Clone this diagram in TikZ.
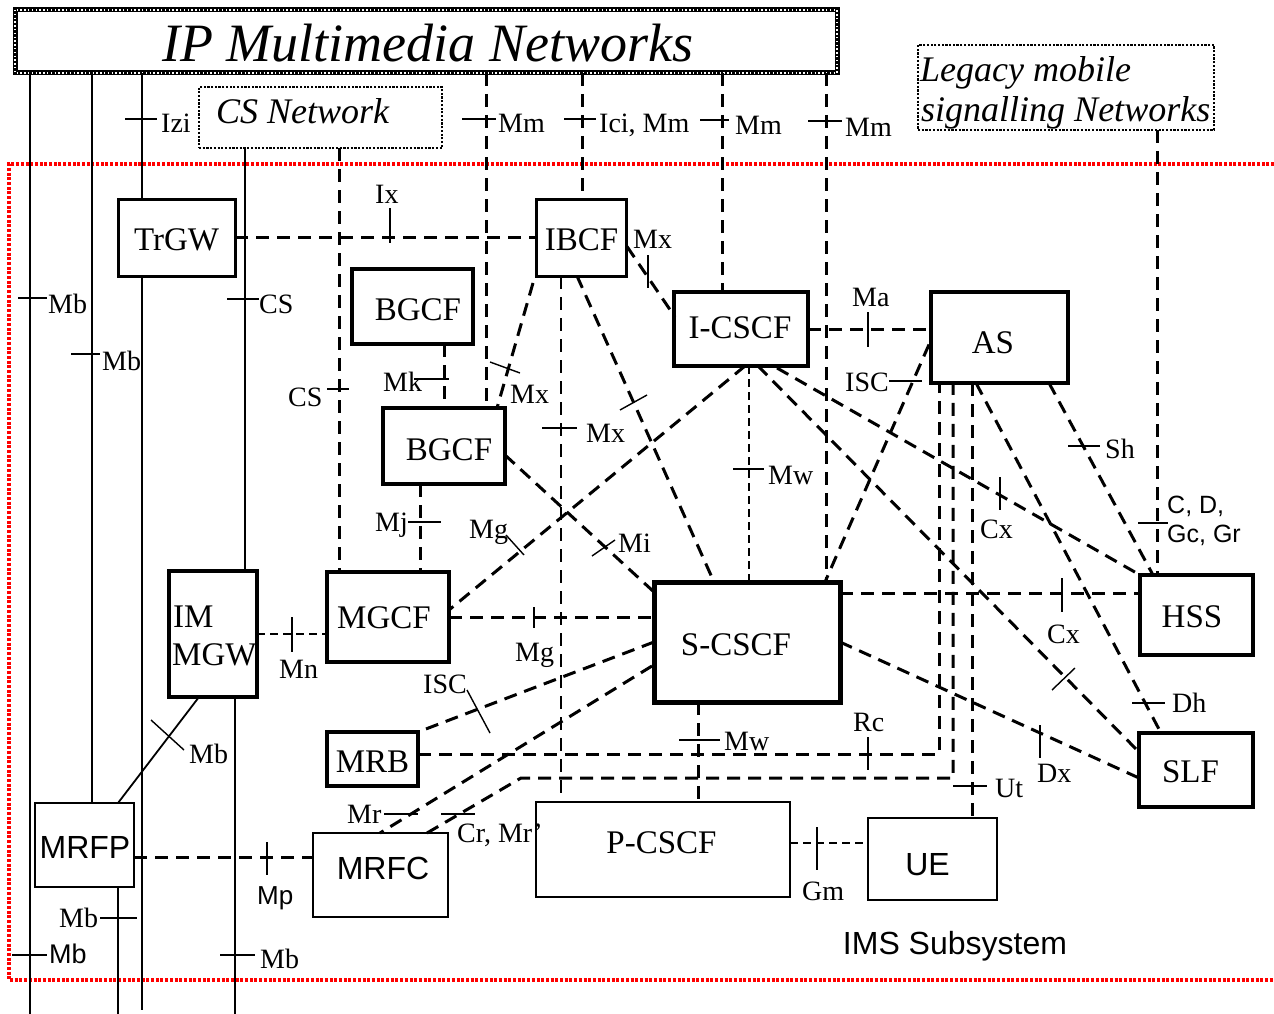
\documentclass[tikz,border=0pt]{standalone}
\usepackage{fontspec}
\setmainfont{Liberation Serif}
\newfontfamily\arialf{Liberation Sans}
\usetikzlibrary{calc}
\tikzset{
 nbox/.style={draw, rectangle, inner sep=0pt, outer sep=0pt},
 btxt/.style={font=\fontsize{33}{36}\selectfont, anchor=base, inner sep=0pt},
 stxt/.style={font=\arialf\fontsize{32}{35}\selectfont, anchor=base, inner sep=0pt},
 lab/.style={font=\fontsize{28}{30}\selectfont, anchor=base west, inner sep=0pt},
 slab/.style={font=\arialf\fontsize{26}{28}\selectfont, anchor=base west, inner sep=0pt},
 dl/.style={line width=3pt, dash pattern=on 13pt off 8pt},
 dls/.style={line width=2.6pt, dash pattern=on 8pt off 5pt},
 sl/.style={line width=1.8pt},
 tk/.style={line width=1.4pt},
 dotbox/.style={draw, rectangle, inner sep=0pt, outer sep=0pt, line width=2.4pt, dash pattern=on 2.2pt off 1.5pt},
}
\begin{document}
\begin{tikzpicture}[x=1pt,y=-1pt]
\useasboundingbox (0,0) rectangle (1274,1014);
\fill[white] (0,0) rectangle (1274,1014);

% red IMS region
\draw[red, line width=3.2pt, dash pattern=on 3pt off 1.7pt] (1274,164) -- (9,164) -- (9,980) -- (1274,980);

% outer networks
\node[nbox, line width=5pt, minimum width=822pt, minimum height=63pt] (ip) at (426,41.5) {};
\draw[white, line width=1.4pt, dash pattern=on 1.4pt off 2.4pt] (ip.north west) rectangle (ip.south east);
\node[font=\itshape\fontsize{54}{58}\selectfont, anchor=base, inner sep=0pt] (ip-t) at (427.5,62) {IP Multimedia Networks};
\node[dotbox, minimum width=243pt, minimum height=61pt] (csnet) at (320.5,117.5) {};
\node[font=\itshape\fontsize{36}{40}\selectfont, anchor=base west, inner sep=0pt] (csnet-t) at (216,124) {CS Network};
\node[dotbox, minimum width=296pt, minimum height=85pt] (legacy) at (1066,87.5) {};
\node[font=\itshape\fontsize{36}{40}\selectfont, anchor=base west, inner sep=0pt] (legacy-t1) at (920,82) {Legacy mobile};
\node[font=\itshape\fontsize{36}{40}\selectfont, anchor=base west, inner sep=0pt] (legacy-t2) at (921,122) {signalling Networks};

% boxes
\node[nbox, line width=3pt, minimum width=117pt, minimum height=77pt] (trgw) at (176.5,237.5) {};
\node[nbox, line width=3pt, minimum width=90pt, minimum height=77pt] (ibcf) at (581,237.5) {};
\node[nbox, line width=3.4pt, minimum width=121pt, minimum height=75pt] (bgcf1) at (412.5,306.5) {};
\node[nbox, line width=3.5pt, minimum width=134pt, minimum height=74pt] (icscf) at (741,329) {};
\node[nbox, line width=3.8pt, minimum width=137pt, minimum height=91pt] (as) at (999.5,337.5) {};
\node[nbox, line width=3.6pt, minimum width=122pt, minimum height=76pt] (bgcf2) at (444,446) {};
\node[nbox, line width=3.4pt, minimum width=88pt, minimum height=126pt] (immgw) at (213,634) {};
\node[nbox, line width=3.8pt, minimum width=122pt, minimum height=90pt] (mgcf) at (388,617) {};
\node[nbox, line width=5pt, minimum width=186pt, minimum height=120pt] (scscf) at (747,642) {};
\node[nbox, line width=4.5pt, minimum width=113pt, minimum height=80pt] (hss) at (1196.5,615) {};
\node[nbox, line width=4.2pt, minimum width=114pt, minimum height=74pt] (slf) at (1196,770) {};
\node[nbox, line width=3.5pt, minimum width=91pt, minimum height=54pt] (mrb) at (372.5,759) {};
\node[nbox, line width=1.8pt, minimum width=99pt, minimum height=84pt] (mrfp) at (84.5,845) {};
\node[nbox, line width=1.8pt, minimum width=135pt, minimum height=84pt] (mrfc) at (380.5,875) {};
\node[nbox, line width=1.6pt, minimum width=254pt, minimum height=95pt] (pcscf) at (663,849.5) {};
\node[nbox, line width=1.8pt, minimum width=129pt, minimum height=82pt] (ue) at (932.5,859) {};

% box texts
\node[btxt] (trgw-t) at (176.5,250) {TrGW};
\node[btxt] (ibcf-t) at (581.5,250) {IBCF};
\node[btxt] (bgcf1-t) at (418,320) {BGCF};
\node[btxt] (icscf-t) at (740,338) {I-CSCF};
\node[btxt] (as-t) at (993,353) {AS};
\node[btxt] (bgcf2-t) at (449,460) {BGCF};
\node[btxt, anchor=base west] (immgw-t1) at (173,627) {IM};
\node[btxt, anchor=base west] (immgw-t2) at (172,665) {MGW};
\node[btxt] (mgcf-t) at (384,628) {MGCF};
\node[btxt] (scscf-t) at (736,655) {S-CSCF};
\node[btxt] (hss-t) at (1192,627) {HSS};
\node[btxt] (slf-t) at (1190.5,782) {SLF};
\node[btxt] (mrb-t) at (372.5,772) {MRB};
\node[btxt] (pcscf-t) at (661.5,853) {P-CSCF};
\node[stxt] (mrfp-t) at (85,858) {MRFP};
\node[stxt] (mrfc-t) at (383,879) {MRFC};
\node[stxt] (ue-t) at (927.5,875) {UE};
\node[stxt] (ims-t) at (955,954) {IMS Subsystem};

% solid bearer lines
\draw[sl] (30,0 |- ip.south) -- (30,1014);
\draw[sl] (92,0 |- ip.south) -- (92,0 |- mrfp.north);
\draw[sl] (142,0 |- ip.south) -- (142,0 |- trgw.north);
\draw[sl] (142,0 |- trgw.south) -- (142,1010);
\draw[sl, line width=1.4pt] (245,0 |- csnet.south) -- (245,0 |- immgw.north);
\draw[sl] (235,0 |- immgw.south) -- (235,1014);
\draw[sl] (118,0 |- mrfp.south) -- (118,1014);
\draw[sl] (199,0 |- immgw.south) -- (118,0 |- mrfp.north);

% dashed verticals from outer networks
\draw[dl] (486,0 |- ip.south) -- (486,0 |- bgcf2.north);
\draw[dl] (582,0 |- ip.south) -- (582,0 |- ibcf.north);
\draw[dl] (722,0 |- ip.south) -- (722,0 |- icscf.north);
\draw[dl] (826,0 |- ip.south) -- (826,0 |- scscf.north);
\draw[dl] (339,0 |- csnet.south) -- (339,0 |- mgcf.north);
\draw[dl] (1157,0 |- legacy.south) -- (1157,0 |- hss.north);

% signalling connectors
\draw[dl] (trgw.east) -- (ibcf.west);
\draw[dl] ($(ibcf.east)+(1,9)$) -- ($(icscf.west)+(1,-12)$);
\draw[dl] (icscf.east) -- (icscf.east -| as.west);
\draw[dl] ($(ibcf.south west)+(-3,7)$) -- (497,0 |- bgcf2.north);
\draw[dl, line width=2.6pt] (561,0 |- ibcf.south) -- (561,0 |- pcscf.north);
\draw[dl] (577,0 |- ibcf.south) -- (714,0 |- scscf.north);
\draw[dl] (bgcf2.north |- bgcf1.south) -- (bgcf2.north);
\draw[dl] (420,0 |- bgcf2.south) -- (420,0 |- mgcf.north);
\draw[dl] ($(bgcf2.east)+(0,9)$) -- ($(scscf.north west)+(0,10)$);
\draw[dl] ($(icscf.south)+(4,0)$) -- ($(mgcf.east)+(0,-7)$);
\draw[dls] (749,0 |- icscf.south) -- (749,0 |- scscf.north);
\draw[dl] ($(icscf.south)+(17,0)$) -- ($(slf.west)+(0,-18)$);
\draw[dl] ($(icscf.south)+(36,2)$) -- (hss.north west);
\draw[dl] ($(as.west)+(-2,7)$) -- (825,0 |- scscf.north);
\draw[dl] (976,0 |- as.south) -- (1161,0 |- slf.north);
\draw[dl] (1049,0 |- as.south) -- (1153,0 |- hss.north);
\draw[dl] (mgcf.east) -- (mgcf.east -| scscf.west);
\draw[dls] (immgw.east) -- (immgw.east -| mgcf.west);
\coordinate (sh1) at ($(scscf.north east)+(0,11)$);
\draw[dl] (sh1) -- (sh1 -| hss.west);
\draw[dl] (scscf.east) -- ($(slf.west)+(0,8)$);
\draw[dl] (scscf.west) -- (mrb.north east);
\draw[dl] ($(scscf.west)+(-2,24)$) -- (380,0 |- mrfc.north);
\draw[dl] (427,0 |- mrfc.north) -- (521,778) -- (953,778) -- (953,0 |- as.south);
\draw[dl] (mrb.east |- 0,754) -- (939,754) -- (939,0 |- as.south);
\draw[dl] (698,0 |- scscf.south) -- (698,0 |- pcscf.north);
\draw[dls] (pcscf.east |- 0,843) -- (ue.west |- 0,843);
\draw[dl] (972,0 |- as.south) -- (972,0 |- ue.north);
\draw[dl] (mrfp.east |- 0,857) -- (mrfc.west |- 0,857);

% interface ticks
\draw[tk] (125,119) -- (157,119);
\draw[tk] (462,119) -- (496,119);
\draw[tk] (564,119) -- (596,119);
\draw[tk] (700,120) -- (729,120);
\draw[tk] (808,121) -- (842,121);
\draw[tk] (390,208) -- (390,243);
\draw[tk] (648,255) -- (648,288);
\draw[tk] (18,298) -- (47,298);
\draw[tk] (227,299) -- (259,299);
\draw[tk] (868,312) -- (868,347);
\draw[tk] (71,354) -- (100,354);
\draw[tk] (414,379) -- (449,379);
\draw[tk] (327,389) -- (349,389);
\draw[tk] (490,362) -- (520,373);
\draw[tk] (889,381) -- (922,381);
\draw[tk] (542,428) -- (577,428);
\draw[tk] (620,410) -- (647,395);
\draw[tk] (1068,446) -- (1100,446);
\draw[tk] (733,469) -- (764,469);
\draw[tk] (1000,477) -- (1000,510);
\draw[tk] (1138,523) -- (1168,523);
\draw[tk] (408,522) -- (441,522);
\draw[tk] (506,535) -- (524,555);
\draw[tk] (592,556) -- (615,540);
\draw[tk] (1062,578) -- (1062,612);
\draw[tk] (534,607) -- (534,628);
\draw[tk] (292,617) -- (292,652);
\draw[tk] (467,690) -- (490,733);
\draw[tk] (1052,690) -- (1075,668);
\draw[tk] (1132,703) -- (1165,703);
\draw[tk] (868,737) -- (868,770);
\draw[tk] (679,740) -- (720,740);
\draw[tk] (151,720) -- (184,750);
\draw[tk] (1040,725) -- (1040,758);
\draw[tk] (953,786) -- (987,786);
\draw[tk] (384,814) -- (418,814);
\draw[tk] (441,814) -- (475,814);
\draw[tk] (817,827) -- (817,870);
\draw[tk] (267,842) -- (267,875);
\draw[tk] (100,918) -- (137,918);
\draw[tk] (12,955) -- (47,955);
\draw[tk] (220,955) -- (255,955);

% interface labels
\node[lab] (l-izi) at (161,133) {Izi};
\node[lab] (l-mm1) at (498,133) {Mm};
\node[lab] (l-ici) at (599,133) {Ici, Mm};
\node[lab] (l-mm2) at (735,135) {Mm};
\node[lab] (l-mm3) at (845,137) {Mm};
\node[lab] (l-ix) at (375,203) {Ix};
\node[lab] (l-mx1) at (633,248) {Mx};
\node[lab] (l-mb1) at (48,313) {Mb};
\node[lab] (l-cs1) at (259,313) {CS};
\node[lab] (l-ma) at (852,306) {Ma};
\node[lab] (l-mb2) at (102,370) {Mb};
\node[lab] (l-mk) at (383,391) {Mk};
\node[lab] (l-cs2) at (288,406) {CS};
\node[lab] (l-mx2) at (510,403) {Mx};
\node[lab] (l-isc1) at (845,391) {ISC};
\node[lab] (l-mx3) at (586,442) {Mx};
\node[lab] (l-sh) at (1105,458) {Sh};
\node[lab] (l-mw1) at (768,484) {Mw};
\node[slab, font=\arialf\fontsize{25}{27}\selectfont] (l-cd) at (1167,513) {C, D,};
\node[slab, font=\arialf\fontsize{25}{27}\selectfont] (l-gc) at (1167,542) {Gc, Gr};
\node[lab] (l-cx1) at (980,538) {Cx};
\node[lab] (l-mj) at (375,531) {Mj};
\node[lab] (l-mg1) at (469,538) {Mg};
\node[lab] (l-mi) at (618,552) {Mi};
\node[lab] (l-cx2) at (1047,643) {Cx};
\node[lab] (l-mg2) at (515,661) {Mg};
\node[lab] (l-mn) at (279,678) {Mn};
\node[lab] (l-isc2) at (423,693) {ISC};
\node[lab] (l-dh) at (1172,712) {Dh};
\node[lab] (l-rc) at (853,731) {Rc};
\node[lab] (l-mw2) at (724,750) {Mw};
\node[lab] (l-mb3) at (189,763) {Mb};
\node[lab] (l-dx) at (1037,782) {Dx};
\node[lab] (l-ut) at (995,797) {Ut};
\node[lab] (l-mr) at (347,823) {Mr};
\node[lab] (l-cr) at (457,842) {Cr, Mr’};
\node[lab] (l-gm) at (802,900) {Gm};
\node[slab] (l-mp) at (257,904) {Mp};
\node[lab] (l-mb4) at (59,927) {Mb};
\node[slab, font=\arialf\fontsize{27}{29}\selectfont] (l-mb5) at (49,963) {Mb};
\node[lab] (l-mb6) at (260,968) {Mb};
\end{tikzpicture}
\end{document}
